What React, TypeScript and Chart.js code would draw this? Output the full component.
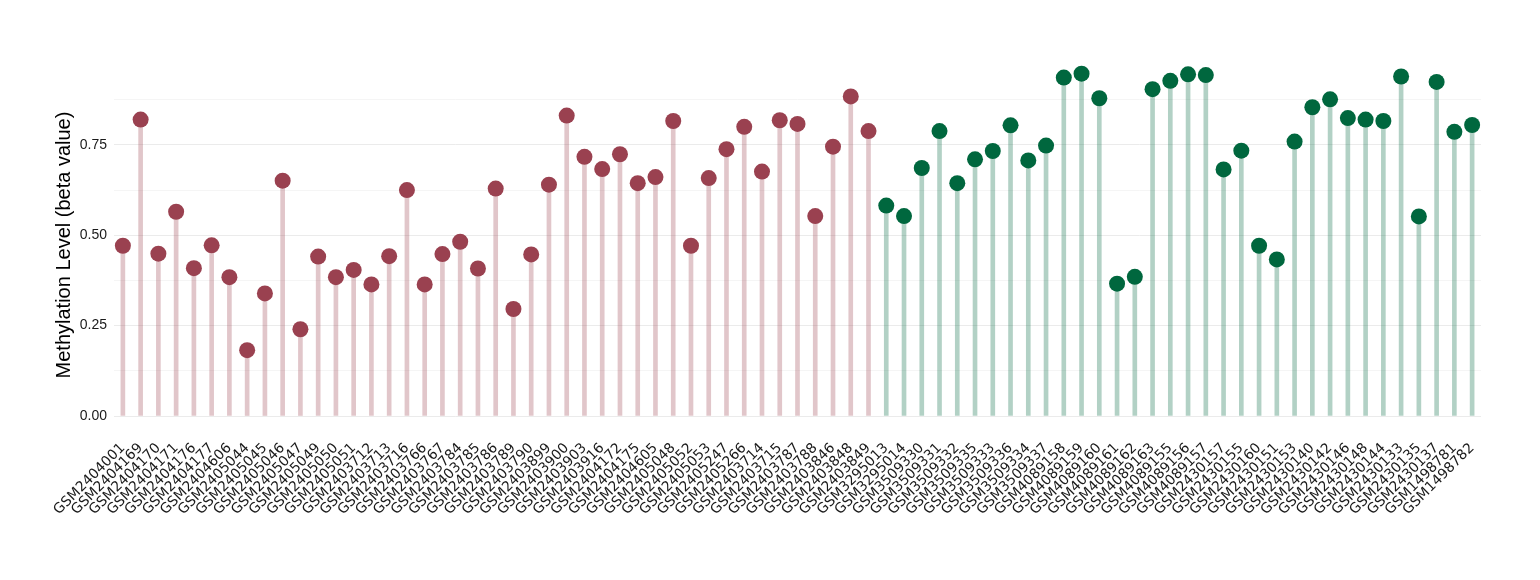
import { useEffect, useRef } from 'react';
import { Chart, registerables } from 'chart.js';

Chart.register(...registerables);

const groupALabels = [
  'GSM2404001', 'GSM2404169', 'GSM2404170', 'GSM2404171', 'GSM2404176', 'GSM2404177', 'GSM2404606',
  'GSM2405044', 'GSM2405045', 'GSM2405046', 'GSM2405047', 'GSM2405049', 'GSM2405050', 'GSM2405051',
  'GSM2403712', 'GSM2403713', 'GSM2403716', 'GSM2403766', 'GSM2403767', 'GSM2403784', 'GSM2403785',
  'GSM2403786', 'GSM2403789', 'GSM2403790', 'GSM2403899', 'GSM2403900', 'GSM2403903', 'GSM2403916',
  'GSM2404172', 'GSM2404175', 'GSM2404605', 'GSM2405048', 'GSM2405052', 'GSM2405053', 'GSM2405247',
  'GSM2405266', 'GSM2403714', 'GSM2403715', 'GSM2403787', 'GSM2403788', 'GSM2403846', 'GSM2403848',
  'GSM2403849',
];
const groupAValues = [
  0.471, 0.820, 0.449, 0.565, 0.409, 0.472, 0.384,
  0.182, 0.339, 0.651, 0.240, 0.441, 0.384, 0.404,
  0.364, 0.442, 0.625, 0.364, 0.448, 0.482, 0.408,
  0.629, 0.296, 0.447, 0.640, 0.831, 0.717, 0.683,
  0.724, 0.644, 0.661, 0.816, 0.471, 0.658, 0.738,
  0.800, 0.676, 0.818, 0.808, 0.553, 0.745, 0.884,
  0.788,
];
const groupBLabels = [
  'GSM3295013', 'GSM3295014', 'GSM3509330', 'GSM3509331', 'GSM3509332', 'GSM3509335', 'GSM3509333',
  'GSM3509336', 'GSM3509334', 'GSM3509337', 'GSM4089158', 'GSM4089159', 'GSM4089160', 'GSM4089161',
  'GSM4089162', 'GSM4089163', 'GSM4089155', 'GSM4089156', 'GSM4089157', 'GSM2430157', 'GSM2430155',
  'GSM2430160', 'GSM2430151', 'GSM2430153', 'GSM2430140', 'GSM2430142', 'GSM2430146', 'GSM2430148',
  'GSM2430144', 'GSM2430133', 'GSM2430135', 'GSM2430137', 'GSM1498781', 'GSM1498782',
];
const groupBValues = [
  0.582, 0.553, 0.686, 0.788, 0.644, 0.710, 0.733,
  0.804, 0.707, 0.748, 0.936, 0.947, 0.879, 0.366,
  0.385, 0.904, 0.927, 0.945, 0.943, 0.682, 0.734,
  0.471, 0.433, 0.759, 0.854, 0.876, 0.824, 0.820,
  0.816, 0.939, 0.552, 0.924, 0.786, 0.805,
];
const yTickValues = [0, 0.125, 0.25, 0.375, 0.5, 0.625, 0.75, 0.875];
const yTickLabels = ['0.00', '', '0.25', '', '0.50', '', '0.75', ''];

const FONT = "'Liberation Sans', Arial, sans-serif";
const XFONT = "'DejaVu Sans', sans-serif";
const dotA = '#9a4150';
const dotB = '#00673e';
const stemA = 'rgba(154,65,80,0.3)';
const stemB = 'rgba(0,103,62,0.3)';

export default function App() {
  const ref = useRef<HTMLCanvasElement | null>(null);

  useEffect(() => {
    if (!ref.current) return;
    const labels = [...groupALabels, ...groupBLabels];
    const values = [...groupAValues, ...groupBValues];
    const dotColors = [...groupALabels.map(() => dotA), ...groupBLabels.map(() => dotB)];
    const stemColors = [...groupALabels.map(() => stemA), ...groupBLabels.map(() => stemB)];

    const chart = new Chart(ref.current, {
      type: 'bar',
      data: {
        labels,
        datasets: [
          {
            type: 'line',
            data: values,
            showLine: false,
            pointRadius: 8,
            pointHoverRadius: 8,
            pointBackgroundColor: dotColors,
            pointBorderWidth: 0,
            pointBorderColor: dotColors,
            clip: false,
            order: 1,
          } as any,
          {
            type: 'bar',
            data: values,
            backgroundColor: stemColors,
            borderWidth: 0,
            barThickness: 4,
            order: 2,
          } as any,
        ],
      },
      options: {
        animation: false,
        responsive: true,
        maintainAspectRatio: false,
        layout: { padding: { left: 50, right: 59, top: 74, bottom: 0 } },
        plugins: { legend: { display: false }, tooltip: { enabled: false } },
        scales: {
          x: {
            offset: true,
            grid: { display: false },
            border: { display: false },
            ticks: {
              autoSkip: false,
              maxRotation: 45,
              minRotation: 45,
              padding: 16,
              color: '#1a1a1a',
              font: { family: XFONT, size: 14 },
            },
            afterFit: (scale: any) => {
              scale.height = 164;
            },
          },
          y: {
            min: 0,
            max: 0.946,
            afterBuildTicks: (scale: any) => {
              scale.ticks = yTickValues.map((v) => ({ value: v }));
            },
            afterFit: (scale: any) => {
              scale.width = 64;
            },
            grid: {
              drawTicks: false,
              color: (ctx: any) => (ctx.index % 2 === 0 ? '#ebebeb' : '#f5f5f5'),
              lineWidth: 1,
            },
            border: { display: false },
            ticks: {
              padding: 7,
              color: '#1a1a1a',
              font: { family: FONT, size: 14 },
              callback: (_v: any, i: number) => yTickLabels[i],
            },
            title: {
              display: true,
              text: 'Methylation Level (beta value)',
              color: '#000',
              padding: { top: 2, bottom: 4 },
              font: { family: FONT, size: 20 },
            },
          },
        },
      },
    });
    return () => chart.destroy();
  }, []);

  return (
    <div style={{ position: 'absolute', left: 0, top: 0, width: 1540, height: 580 }}>
      <canvas ref={ref} />
    </div>
  );
}
